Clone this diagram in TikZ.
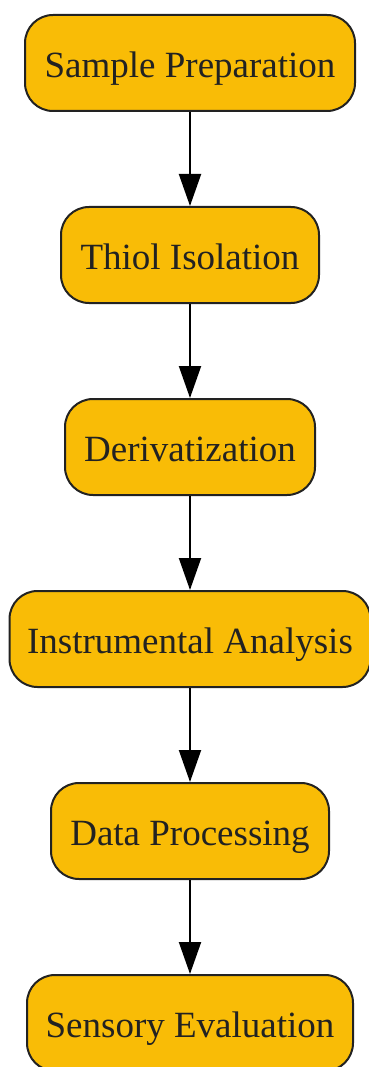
\documentclass[tikz,border=0pt]{standalone}
\usepackage{fontspec}
\setmainfont{Liberation Serif}
\usetikzlibrary{arrows.meta}
\definecolor{boxfill}{RGB}{249,188,6}
\definecolor{boxline}{RGB}{34,34,34}
\definecolor{txt}{RGB}{34,34,34}
\begin{document}
\begin{tikzpicture}[x=1pt,y=-1pt,
  stepbox/.style={draw=boxline, line width=2pt, fill=boxfill, rounded corners=28pt,
    minimum height=96pt, inner sep=0pt, text=txt, text height=29pt, text depth=0pt,
    font=\fontsize{37}{40}\selectfont},
  flow/.style={line width=2pt, draw=black, -{Triangle[width=22pt,length=32pt]}}]
\useasboundingbox (0,0) rectangle (369,1067);
\node[stepbox, minimum width=330pt] (a) at (190,63) {Sample Preparation};
\node[stepbox, minimum width=258pt] (b) at (190,255) {Thiol Isolation};
\node[stepbox, minimum width=250pt] (c) at (190,447) {Derivatization};
\node[stepbox, minimum width=361pt] (d) at (190,639) {Instrumental Analysis};
\node[stepbox, minimum width=278pt] (e) at (190,831) {Data Processing};
\node[stepbox, minimum width=326pt] (f) at (190,1023) {Sensory Evaluation};
\draw[flow] (a) -- (b);
\draw[flow] (b) -- (c);
\draw[flow] (c) -- (d);
\draw[flow] (d) -- (e);
\draw[flow] (e) -- (f);
\end{tikzpicture}
\end{document}
